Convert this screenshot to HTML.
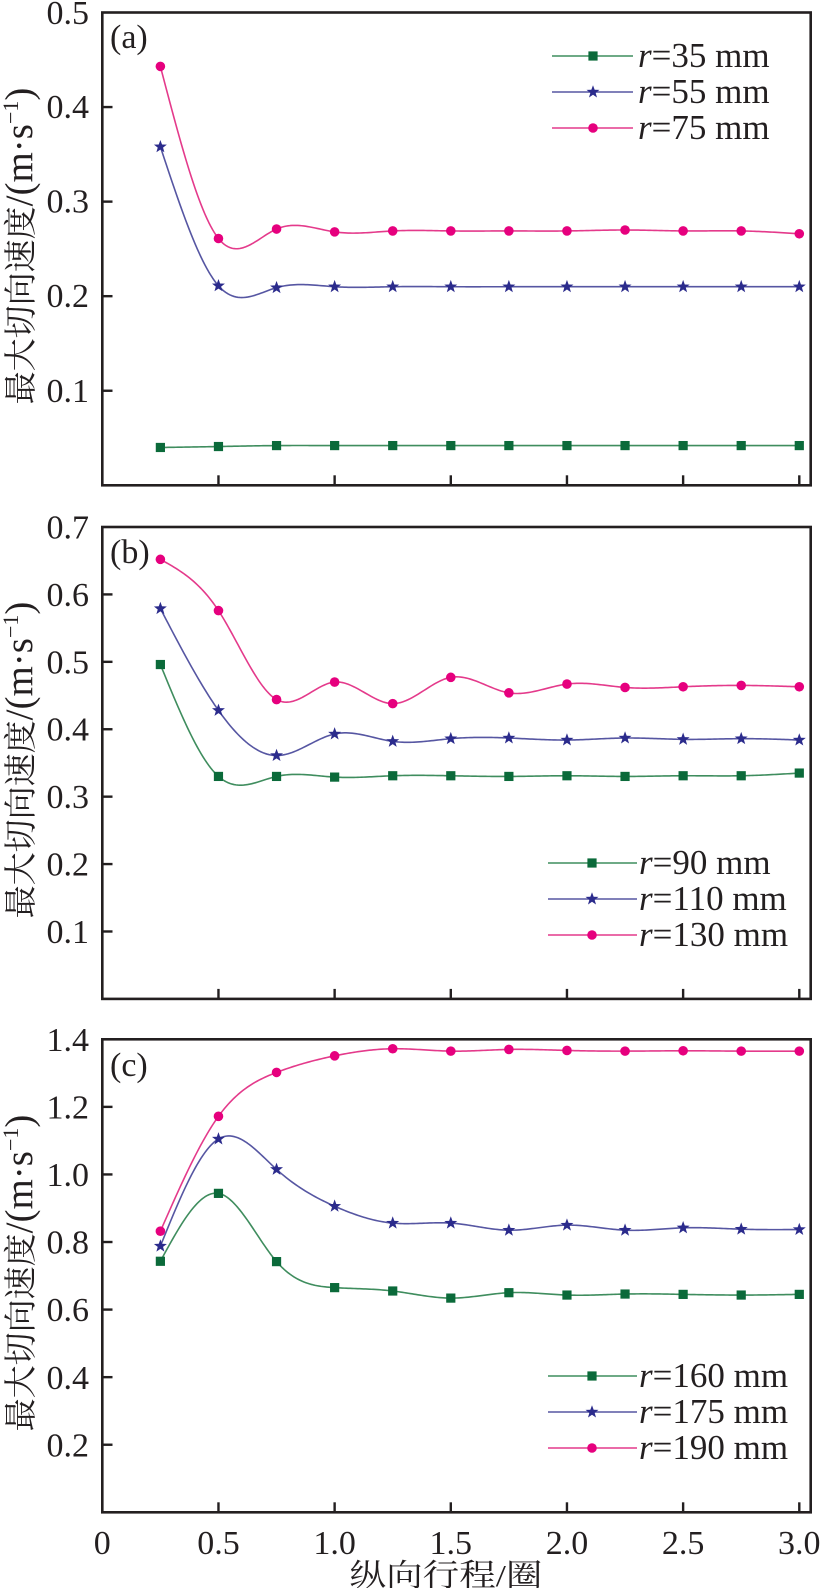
<!DOCTYPE html>
<html>
<head>
<meta charset="utf-8">
<style>
  html,body{margin:0;padding:0;background:#fff;}
  svg{display:block;}
  .num{font-family:"Liberation Serif","Noto Serif CJK SC",serif;font-size:34px;fill:#231f20;}
  .ttl{font-family:"Liberation Serif","Noto Serif CJK SC",serif;font-size:33px;fill:#231f20;}
  .xttl{font-family:"Liberation Serif","Noto Serif CJK SC",serif;font-size:31px;fill:#231f20;}
  .leg{font-family:"Liberation Serif","Noto Serif CJK SC",serif;font-size:35px;fill:#231f20;}
</style>
</head>
<body>
<svg id="chart" width="821" height="1588" viewBox="0 0 821 1588" xmlns="http://www.w3.org/2000/svg">
  <rect x="0" y="0" width="821" height="1588" fill="#fff"/>
  <g id="curves"></g>
  <g id="frames" fill="none" stroke="#231f20" stroke-width="2.6">
    <rect x="102.3" y="12.5" width="708.4" height="472.8"/>
    <rect x="102.3" y="527" width="708.4" height="471.9"/>
    <rect x="102.3" y="1039.3" width="708.4" height="473"/>
  </g>
  <g id="ticks" stroke="#231f20" stroke-width="2.4"></g>

  <!-- Panel labels -->
  <text class="num" x="110" y="48">(a)</text>
  <text class="num" x="110" y="563">(b)</text>
  <text class="num" x="110" y="1076">(c)</text>

  <!-- Y tick labels panel a -->
  <g class="num" text-anchor="end">
    <text x="89" y="24">0.5</text>
    <text x="89" y="118.1">0.4</text>
    <text x="89" y="212.7">0.3</text>
    <text x="89" y="307.2">0.2</text>
    <text x="89" y="401.8">0.1</text>
  </g>
  <!-- Y tick labels panel b -->
  <g class="num" text-anchor="end">
    <text x="89" y="538.5">0.7</text>
    <text x="89" y="605.9">0.6</text>
    <text x="89" y="673.3">0.5</text>
    <text x="89" y="740.7">0.4</text>
    <text x="89" y="808.1">0.3</text>
    <text x="89" y="875.6">0.2</text>
    <text x="89" y="943">0.1</text>
  </g>
  <!-- Y tick labels panel c -->
  <g class="num" text-anchor="end">
    <text x="89" y="1050.8">1.4</text>
    <text x="89" y="1118.4">1.2</text>
    <text x="89" y="1186">1.0</text>
    <text x="89" y="1253.6">0.8</text>
    <text x="89" y="1321.2">0.6</text>
    <text x="89" y="1388.8">0.4</text>
    <text x="89" y="1456.4">0.2</text>
  </g>
  <!-- X tick labels -->
  <g class="num" text-anchor="middle">
    <text x="102.3" y="1554">0</text>
    <text x="218.5" y="1554">0.5</text>
    <text x="334.6" y="1554">1.0</text>
    <text x="450.8" y="1554">1.5</text>
    <text x="567" y="1554">2.0</text>
    <text x="683.1" y="1554">2.5</text>
    <text x="799.3" y="1554">3.0</text>
  </g>
  <!-- X axis title -->
  <text class="xttl" transform="translate(446,1586) scale(1.18,1)" x="0" y="0" text-anchor="middle">纵向行程/圈</text>

  <!-- Y axis titles -->
  <text class="ttl" transform="translate(32,246) rotate(-90)" text-anchor="middle">最大切向速度<tspan font-size="39">/(m·s</tspan><tspan dy="-14" font-size="22">−1</tspan><tspan dy="14" font-size="39">)</tspan></text>
  <text class="ttl" transform="translate(32,760) rotate(-90)" text-anchor="middle">最大切向速度<tspan font-size="39">/(m·s</tspan><tspan dy="-14" font-size="22">−1</tspan><tspan dy="14" font-size="39">)</tspan></text>
  <text class="ttl" transform="translate(32,1273) rotate(-90)" text-anchor="middle">最大切向速度<tspan font-size="39">/(m·s</tspan><tspan dy="-14" font-size="22">−1</tspan><tspan dy="14" font-size="39">)</tspan></text>

  <!-- Legends text -->
  <g class="leg">
    <text x="638" y="67"><tspan font-style="italic">r</tspan>=35 mm</text>
    <text x="638" y="103"><tspan font-style="italic">r</tspan>=55 mm</text>
    <text x="638" y="139"><tspan font-style="italic">r</tspan>=75 mm</text>

    <text x="639" y="874"><tspan font-style="italic">r</tspan>=90 mm</text>
    <text x="639" y="910"><tspan font-style="italic">r</tspan>=110 mm</text>
    <text x="639" y="946"><tspan font-style="italic">r</tspan>=130 mm</text>

    <text x="639" y="1387"><tspan font-style="italic">r</tspan>=160 mm</text>
    <text x="639" y="1423"><tspan font-style="italic">r</tspan>=175 mm</text>
    <text x="639" y="1459"><tspan font-style="italic">r</tspan>=190 mm</text>
  </g>
</svg>
<script>
(function(){
  var NS = "http://www.w3.org/2000/svg";
  var curves = document.getElementById("curves");
  var ticks = document.getElementById("ticks");
  function X(v){ return 102.3 + 232.33*v; }
  var COL = [
    {line:"#3f8d5e", mk:"#0b6a3a", type:"sq"},
    {line:"#5656a2", mk:"#2b2b8c", type:"star"},
    {line:"#e43a8b", mk:"#e6007e", type:"circ"}
  ];
  var panels = [
    {top:12.5, bot:485.3, max:0.5, yt:[0.1,0.2,0.3,0.4],
     legX1:552, legX2:633, legM:593, legY:[56,92,128],
     s:[
      [0.040,0.041,0.042,0.042,0.042,0.042,0.042,0.042,0.042,0.042,0.042,0.042],
      [0.358,0.211,0.209,0.210,0.210,0.210,0.210,0.210,0.210,0.210,0.210,0.210],
      [0.443,0.261,0.271,0.268,0.269,0.269,0.269,0.269,0.270,0.269,0.269,0.266]
     ]},
    {top:527, bot:998.9, max:0.7, yt:[0.1,0.2,0.3,0.4,0.5,0.6],
     legX1:548, legX2:637, legM:592, legY:[863,899,935],
     s:[
      [0.496,0.330,0.330,0.329,0.331,0.331,0.330,0.331,0.330,0.331,0.331,0.335],
      [0.579,0.428,0.361,0.393,0.382,0.386,0.387,0.384,0.387,0.385,0.386,0.384],
      [0.652,0.576,0.444,0.470,0.438,0.477,0.454,0.467,0.462,0.463,0.465,0.463]
     ]},
    {top:1039.3, bot:1512.3, max:1.4, yt:[0.2,0.4,0.6,0.8,1.0,1.2],
     legX1:548, legX2:637, legM:592, legY:[1376,1412,1448],
     s:[
      [0.743,0.944,0.742,0.665,0.655,0.634,0.650,0.643,0.646,0.645,0.643,0.645],
      [0.788,1.105,1.015,0.906,0.856,0.856,0.835,0.850,0.835,0.842,0.838,0.837],
      [0.832,1.172,1.302,1.351,1.372,1.365,1.370,1.367,1.365,1.366,1.365,1.365]
     ]}
  ];
  function el(name, attrs, parent){
    var e = document.createElementNS(NS, name);
    for (var k in attrs) e.setAttribute(k, attrs[k]);
    (parent||curves).appendChild(e);
    return e;
  }
  function naturalSpline(xs, ys){
    var n = xs.length, h = [], i;
    for(i=0;i<n-1;i++) h.push(xs[i+1]-xs[i]);
    var a=[],b=[],c=[],d=[];
    for(i=0;i<n;i++){
      if(i===0||i===n-1){a.push(0);b.push(1);c.push(0);d.push(0);}
      else{
        a.push(h[i-1]); b.push(2*(h[i-1]+h[i])); c.push(h[i]);
        d.push(6*((ys[i+1]-ys[i])/h[i]-(ys[i]-ys[i-1])/h[i-1]));
      }
    }
    var cp=[],dp=[];
    cp[0]=c[0]/b[0]; dp[0]=d[0]/b[0];
    for(i=1;i<n;i++){
      var m=b[i]-a[i]*cp[i-1];
      cp[i]=c[i]/m; dp[i]=(d[i]-a[i]*dp[i-1])/m;
    }
    var M=[]; M[n-1]=dp[n-1];
    for(i=n-2;i>=0;i--) M[i]=dp[i]-cp[i]*M[i+1];
    var pts=[];
    for(i=0;i<n-1;i++){
      var steps=30;
      for(var j=0;j<=steps;j++){
        if(i>0&&j===0) continue;
        var t=xs[i]+h[i]*j/steps;
        var A=(xs[i+1]-t)/h[i], B=(t-xs[i])/h[i];
        var y=A*ys[i]+B*ys[i+1]+((A*A*A-A)*M[i]+(B*B*B-B)*M[i+1])*h[i]*h[i]/6;
        pts.push(t.toFixed(2)+","+y.toFixed(2));
      }
    }
    return pts.join(" ");
  }
  function star(cx, cy, R, r){
    var p=[];
    for(var k=0;k<10;k++){
      var ang=-Math.PI/2 + k*Math.PI/5;
      var rad=(k%2===0)?R:r;
      p.push((cx+rad*Math.cos(ang)).toFixed(2)+","+(cy+rad*Math.sin(ang)).toFixed(2));
    }
    return p.join(" ");
  }
  function marker(type, cx, cy, col){
    if(type==="sq"){
      el("rect",{x:cx-4.6,y:cy-4.6,width:9.2,height:9.2,fill:col});
    } else if(type==="star"){
      el("polygon",{points:star(cx,cy,6.8,2.8),fill:col});
    } else {
      el("circle",{cx:cx,cy:cy,r:4.8,fill:col});
    }
  }
  panels.forEach(function(P){
    var H = P.bot - P.top;
    function Y(v){ return P.bot - v/P.max*H; }
    P.yt.forEach(function(v){
      var y=Y(v);
      el("line",{x1:102.3,y1:y,x2:112.5,y2:y},ticks);
    });
    for(var k=1;k<=6;k++){
      var x=X(k*0.5);
      el("line",{x1:x,y1:P.bot,x2:x,y2:P.bot-10},ticks);
    }
    P.s.forEach(function(vals, si){
      var xs=[], ys=[];
      for(var i=0;i<vals.length;i++){ xs.push(X(0.25*(i+1))); ys.push(Y(vals[i])); }
      el("polyline",{points:naturalSpline(xs,ys),fill:"none",stroke:COL[si].line,"stroke-width":1.6,"stroke-linejoin":"round"});
      for(var i2=0;i2<xs.length;i2++) marker(COL[si].type, xs[i2], ys[i2], COL[si].mk);
      var ly=P.legY[si];
      el("line",{x1:P.legX1,y1:ly,x2:P.legX2,y2:ly,stroke:COL[si].line,"stroke-width":1.6});
      marker(COL[si].type, P.legM, ly, COL[si].mk);
    });
  });
})();
</script>
</body>
</html>
